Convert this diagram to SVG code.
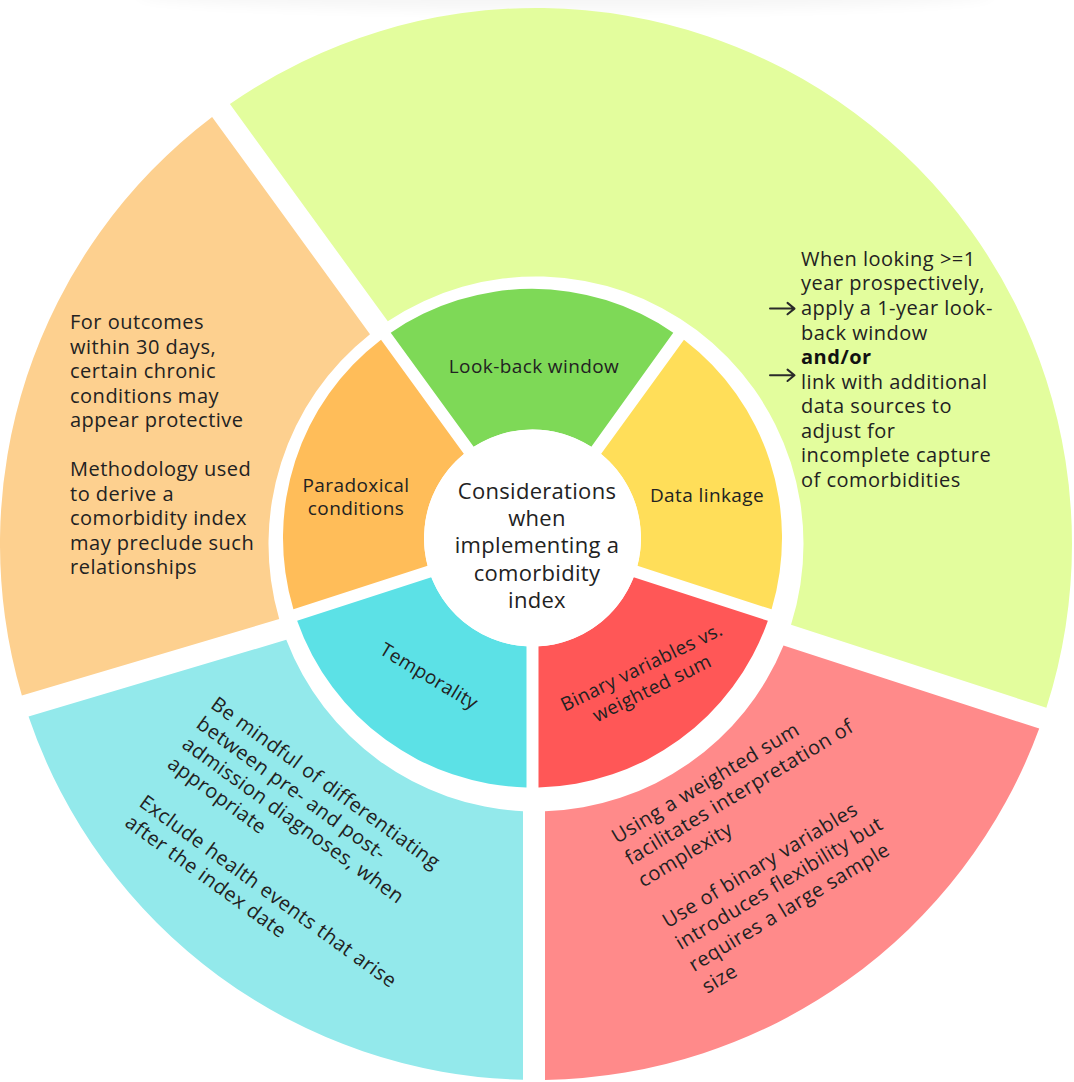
<svg xmlns="http://www.w3.org/2000/svg" width="1074" height="1082" viewBox="0 0 1074 1082">
<defs>
<filter id="sh" x="-20%" y="-200%" width="140%" height="500%"><feGaussianBlur stdDeviation="7"/></filter>
<style>
.t{font-family:"Open Sans","Noto Sans","Liberation Sans",sans-serif;fill:#222;}
.o{font-size:20px;letter-spacing:0.5px;}
.i{font-size:19px;letter-spacing:0.4px;text-anchor:middle;}
.c{font-size:22px;letter-spacing:0.3px;text-anchor:middle;}
.b{font-weight:bold;fill:#111;}
.arr{fill:none;stroke:#2a2a2a;stroke-width:2;stroke-linecap:round;stroke-linejoin:round;}
</style>
</defs>
<rect width="1074" height="1082" fill="#fff"/>
<ellipse cx="565" cy="-6" rx="430" ry="16" fill="#000" opacity="0.035" filter="url(#sh)"/>

<g id="outer-data-linkage">
<path d="M 229.91 103.99 A 536 536 0 0 1 1046.37 707.76 L 791.01 624.79 A 267.5 267.5 0 0 0 387.80 321.31 Z" fill="#E3FD9D"/>
<text class="t o" x="801"><tspan x="801" y="265.9">When looking &gt;=1</tspan><tspan x="801" y="290.45">year prospectively,</tspan><tspan x="801" y="315">apply a 1-year look-</tspan><tspan x="801" y="339.55">back window</tspan><tspan x="801" y="364.1" class="b">and/or</tspan><tspan x="801" y="388.65">link with additional</tspan><tspan x="801" y="413.2">data sources to</tspan><tspan x="801" y="437.75">adjust for</tspan><tspan x="801" y="462.3">incomplete capture</tspan><tspan x="801" y="486.85">of comorbidities</tspan></text>
</g>

<g id="outer-binary">
<path d="M 1039.22 728.57 A 536 536 0 0 1 545 1079.93 L 545 811.35 A 267.5 267.5 0 0 0 783.50 645.49 Z" fill="#FF8A8A"/>
<text class="t o" transform="translate(617 844) rotate(-31)"><tspan x="0" y="0">Using a weighted sum</tspan><tspan x="0" y="25.5">facilitates interpretation of</tspan><tspan x="0" y="51">complexity</tspan><tspan x="0" y="98.5">Use of binary variables</tspan><tspan x="0" y="124">introduces flexibility but</tspan><tspan x="0" y="149.5">requires a large sample</tspan><tspan x="0" y="175">size</tspan></text>
</g>

<g id="outer-temporality">
<path d="M 523 1079.84 A 536 536 0 0 1 28.54 716.57 L 286.26 639.84 A 267.5 267.5 0 0 0 523 811.18 Z" fill="#93E9EB"/>
<text class="t o" transform="translate(209.5 707) rotate(36)"><tspan x="0" y="0">Be mindful of differentiating</tspan><tspan x="0" y="24.5">between pre- and post-</tspan><tspan x="0" y="49">admission diagnoses, when</tspan><tspan x="0" y="73.5">appropriate</tspan><tspan x="0" y="121.5">Exclude health events that arise</tspan><tspan x="0" y="146">after the index date</tspan></text>
</g>

<g id="outer-paradoxical">
<path d="M 21.88 695.60 A 536 536 0 0 1 212.11 116.93 L 370.00 334.24 A 267.5 267.5 0 0 0 279.22 618.98 Z" fill="#FDD08F"/>
<text class="t o"><tspan x="70" y="329">For outcomes</tspan><tspan x="70" y="353.5">within 30 days,</tspan><tspan x="70" y="378">certain chronic</tspan><tspan x="70" y="402.5">conditions may</tspan><tspan x="70" y="427">appear protective</tspan><tspan x="70" y="476">Methodology used</tspan><tspan x="70" y="500.5">to derive a</tspan><tspan x="70" y="525">comorbidity index</tspan><tspan x="70" y="549.5">may preclude such</tspan><tspan x="70" y="574">relationships</tspan></text>
</g>

<g id="lookback">
<path d="M 390.74 332.68 A 249.5 249.5 0 0 1 673.26 332.68 L 591.32 446.83 A 108.5 108.5 0 0 0 473.68 446.83 Z" fill="#7ED957"/>
<text class="t i" x="534" y="373">Look-back window</text>
</g>

<g id="data-linkage">
<path d="M 683.97 339.74 A 249.5 249.5 0 0 1 771.58 609.37 L 637.39 565.77 A 108.5 108.5 0 0 0 601.03 453.88 Z" fill="#FFDE59"/>
<text class="t i" x="707" y="502">Data linkage</text>
</g>

<g id="binary">
<path d="M 767.87 620.79 A 249.5 249.5 0 0 1 538.5 787.43 L 538.5 646.33 A 108.5 108.5 0 0 0 633.68 577.18 Z" fill="#FF5757"/>
<text class="t i" transform="translate(647.5 679) rotate(-26)"><tspan x="0" y="-6.75">Binary variables vs.</tspan><tspan x="0" y="16.75">weighted sum</tspan></text>
</g>

<g id="temporality">
<path d="M 526.5 787.43 A 249.5 249.5 0 0 1 297.13 620.79 L 431.32 577.18 A 108.5 108.5 0 0 0 526.5 646.33 Z" fill="#5CE1E6"/>
<text class="t i" transform="translate(428.3 677.5) rotate(31)" x="0" y="5">Temporality</text>
</g>

<g id="paradoxical">
<path d="M 293.42 609.37 A 249.5 249.5 0 0 1 381.03 339.74 L 463.97 453.88 A 108.5 108.5 0 0 0 427.61 565.77 Z" fill="#FFBD59"/>
<text class="t i"><tspan x="356" y="491.75">Paradoxical</tspan><tspan x="356" y="515.25">conditions</tspan></text>
</g>

<g id="center">
<circle cx="532.5" cy="538" r="108.5" fill="#fff"/>
<text class="t c"><tspan x="537" y="499">Considerations</tspan><tspan x="537" y="526.2">when</tspan><tspan x="537" y="553.4">implementing a</tspan><tspan x="537" y="580.6">comorbidity</tspan><tspan x="537" y="607.8">index</tspan></text>
</g>

<g id="connectors">
<path class="arr" d="M 770 308.6 H 794 M 787.5 302.9 L 794.5 308.6 L 787.5 314.3"/>
<path class="arr" d="M 770 375.3 H 794 M 787.5 369.6 L 794.5 375.3 L 787.5 381"/>
</g>
</svg>
